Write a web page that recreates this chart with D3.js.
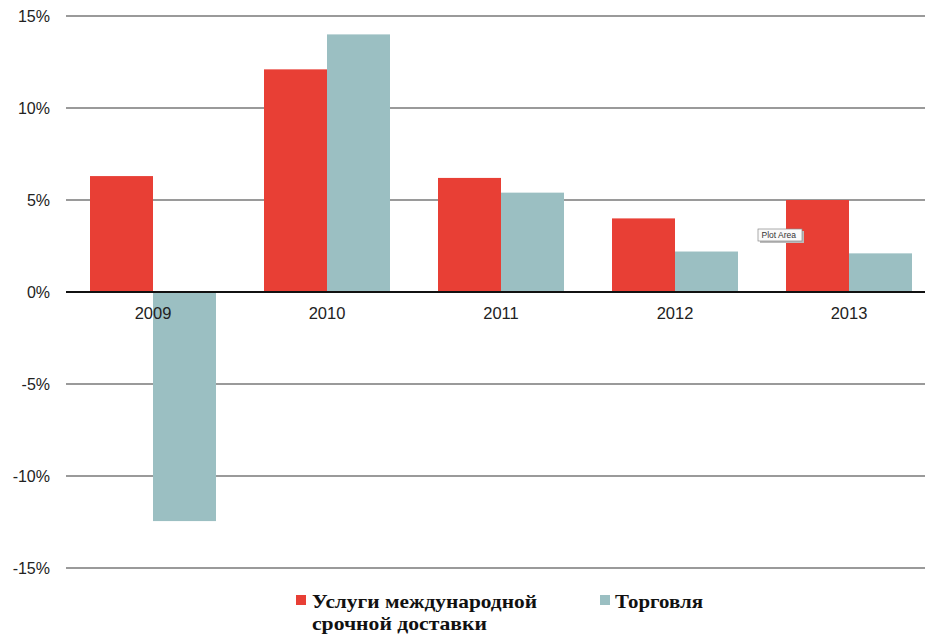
<!DOCTYPE html>
<html><head><meta charset="utf-8">
<script src="https://cdn.jsdelivr.net/npm/d3@7"></script>
<style>body{margin:0;background:#fff}svg{display:block}</style>
</head><body>
<script>
const categories = ["2009","2010","2011","2012","2013"];
const seriesNames = ["Услуги международной срочной доставки","Торговля"];
const express = [6.3, 12.1, 6.2, 4.0, 5.0];
const trade = [-12.45, 14.0, 5.4, 2.2, 2.1];
const yTicks = [-15,-10,-5,0,5,10,15];
const colors = ["#e83f35","#9bbfc2"];

const W=925,H=636;
const svg=d3.select("body").append("svg").attr("width",W).attr("height",H);
const y=d3.scaleLinear().domain([-15,15]).range([568,16]);
const x=d3.scaleBand().domain(categories).range([66,936]).paddingInner(0).paddingOuter(0);
const xs=d3.scaleBand().domain([0,1]).range([0,126]);
const off=(x.bandwidth()-126)/2;

// gridlines
svg.append("g").selectAll("line").data(yTicks.filter(d=>d!==0)).join("line")
 .attr("x1",66).attr("x2",W).attr("y1",d=>y(d)).attr("y2",d=>y(d))
 .attr("stroke","#9a9a9a").attr("stroke-width",2);

// y labels
svg.append("g").selectAll("text").data(yTicks).join("text")
 .attr("x",50).attr("y",d=>y(d)+6).attr("text-anchor","end")
 .attr("font-family","Liberation Sans, Arial, sans-serif").attr("font-size",16).attr("fill","#222")
 .text(d=>d+"%");

const data=categories.map((c,i)=>({c,vals:[express[i],trade[i]]}));
const g=svg.append("g");
data.forEach(d=>{
  d.vals.forEach((v,k)=>{
    g.append("rect")
     .attr("x",x(d.c)+off+xs(k)).attr("width",xs.bandwidth())
     .attr("y",y(Math.max(0,v))).attr("height",Math.abs(y(v)-y(0)))
     .attr("fill",colors[k]);
  });
});

// zero line
svg.append("line").attr("x1",66).attr("x2",W).attr("y1",y(0)).attr("y2",y(0))
 .attr("stroke","#111").attr("stroke-width",2);

// category labels
svg.append("g").selectAll("text").data(categories).join("text")
 .attr("x",d=>x(d)+x.bandwidth()/2).attr("y",y(0)+27).attr("text-anchor","middle")
 .attr("font-family","Liberation Sans, Arial, sans-serif").attr("font-size",16.5).attr("fill","#222")
 .text(d=>d);

// Plot Area tooltip
const tip=svg.append("g").attr("transform","translate(758,229)");
tip.append("rect").attr("x",2).attr("y",2).attr("width",44).attr("height",12).attr("fill","#bbb");
tip.append("rect").attr("width",44).attr("height",12).attr("fill","#fafafa").attr("stroke","#888").attr("stroke-width",0.7);
tip.append("text").attr("x",3.5).attr("y",9).attr("font-family","Liberation Sans, Arial, sans-serif").attr("font-size",8.5).attr("fill","#333").text("Plot Area");

// legend
const lf="Liberation Serif, 'Times New Roman', serif";
svg.append("rect").attr("x",296).attr("y",595).attr("width",10).attr("height",10).attr("fill",colors[0]);
const t1=svg.append("text").attr("font-family",lf).attr("font-weight","bold").attr("font-size",19).attr("fill","#111");
t1.append("tspan").attr("x",312).attr("y",608).attr("textLength",225).attr("lengthAdjust","spacingAndGlyphs").text("Услуги международной");
t1.append("tspan").attr("x",312).attr("y",630).attr("textLength",175).attr("lengthAdjust","spacingAndGlyphs").text("срочной доставки");
svg.append("rect").attr("x",600).attr("y",595).attr("width",10).attr("height",10).attr("fill",colors[1]);
svg.append("text").attr("x",615).attr("y",608).attr("textLength",88).attr("lengthAdjust","spacingAndGlyphs").attr("font-family",lf).attr("font-weight","bold").attr("font-size",19).attr("fill","#111").text(seriesNames[1]);
</script>
</body></html>
